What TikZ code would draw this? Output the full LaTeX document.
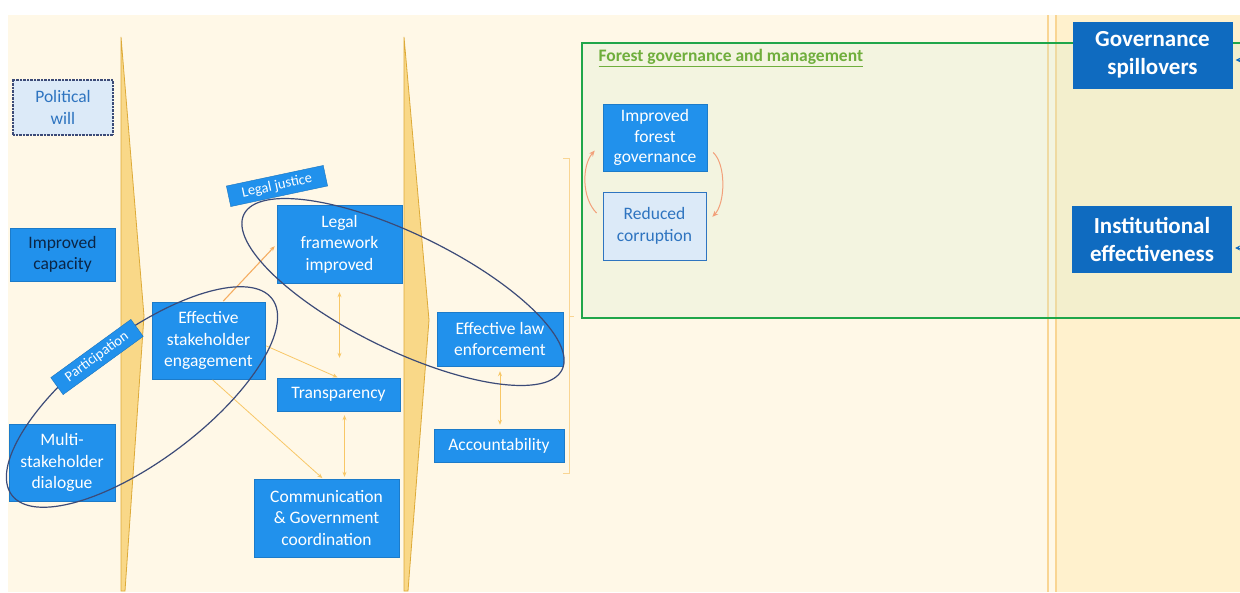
\documentclass[tikz,border=0pt]{standalone}
\usepackage{fontspec}
\setmainfont{Carlito}
\usetikzlibrary{arrows.meta}

\definecolor{cream}{HTML}{FFF8E7}
\definecolor{creamdark}{HTML}{FFF1CD}
\definecolor{sepline}{HTML}{F9D593}
\definecolor{wedgefill}{HTML}{F9D888}
\definecolor{wedgeline}{HTML}{DDAA38}
\definecolor{boxblue}{HTML}{2191EC}
\definecolor{deepblue}{HTML}{0F6BC0}
\definecolor{paleblue}{HTML}{DCEAF8}
\definecolor{textblue}{HTML}{2E74C0}
\definecolor{framegreen}{HTML}{1FA64A}
\definecolor{framefill}{HTML}{D2EBCF}
\definecolor{titlegreen}{HTML}{6FAE3C}
\definecolor{linkyellow}{HTML}{F8C766}
\definecolor{linkorange}{HTML}{F5AE62}
\definecolor{cycleorange}{HTML}{F2A07A}
\definecolor{ringblue}{HTML}{3C4B78}
\definecolor{darktext}{HTML}{0B2545}

\begin{document}
\begin{tikzpicture}[x=1pt, y=-1pt,
    bluebox/.style={rectangle, draw=boxblue!85!black, line width=0.4pt, fill=boxblue, text=white, align=center, inner sep=2pt, font=\fontsize{17.5}{21.5}\selectfont},
    palebox/.style={bluebox, fill=paleblue, text=textblue, draw=textblue},
    deepbox/.style={rectangle, fill=deepblue, text=white, align=center, minimum width=160pt, minimum height=67pt, font=\bfseries\fontsize{23}{28}\selectfont},
    tagbox/.style={rectangle, fill=boxblue, draw=boxblue!80!black, text=white, minimum width=99pt, minimum height=21pt, inner sep=1pt, font=\fontsize{14.5}{16}\selectfont},
    linkarrow/.style={draw=linkyellow, line width=0.8pt, -{Stealth[length=5pt,width=4pt]}, shorten >=1pt, shorten <=1pt},
    linkboth/.style={linkarrow, {Stealth[length=5pt,width=4pt]}-{Stealth[length=5pt,width=4pt]}},
    cyclearrow/.style={draw=cycleorange, line width=1pt, -{Stealth[length=6pt,width=5pt]}},
    ring/.style={draw=ringblue, line width=1.2pt},
    wedge/.style={fill=wedgefill, draw=wedgeline, line width=0.8pt},
    inarrow/.style={draw=deepblue, line width=0.8pt, -{Stealth[length=5pt,width=5pt]}, shorten >=3pt}
    ]
    \useasboundingbox (0,0) rectangle (1240,592);

    % background
    \fill [cream] (8,15) rectangle (1240,592);
    \fill [creamdark] (1056,15) rectangle (1240,592);
    \draw [sepline, line width=2pt] (1048,15) -- (1048,592);
    \draw [sepline, line width=2pt] (1056,15) -- (1056,592);

    % forest governance frame
    \fill [framefill, fill opacity=0.25] (582,43) rectangle (1241,318);
    \draw [framegreen, line width=2.5pt] (1241,43) -- (582,43) -- (582,318) -- (1241,318);
    \node [anchor=west, text=titlegreen, font=\bfseries\fontsize{17.5}{20}\selectfont] (fgm) at (595,58) {\underline{Forest governance and management}};

    % wedges
    \draw [wedge] (121,37) -- (144,316) -- (125,591) -- (121,591) -- cycle;
    \draw [wedge] (404,37) -- (429,320) -- (408,591) -- (404,591) -- cycle;
    \draw [sepline, line width=0.8pt] (563,158) -- (569,158) -- (569,473) -- (563,473);
    \draw [sepline, line width=0.8pt] (569,316) -- (574,316);

    % left column
    \node [palebox, draw=ringblue, densely dotted, line width=1.2pt, minimum width=100pt, minimum height=55pt] (pw) at (63,107.5) {Political\\will};
    \node [bluebox, text=darktext, minimum width=105pt, minimum height=53pt] (ic) at (62.5,254.5) {Improved\\capacity};
    \node [bluebox, minimum width=106pt, minimum height=77pt] (msd) at (62,462.5) {Multi-\\stakeholder\\dialogue};

    % middle column
    \node [bluebox, minimum width=113pt, minimum height=77pt] (ese) at (208.5,340.5) {Effective\\stakeholder\\engagement};
    \node [bluebox, minimum width=125pt, minimum height=78pt] (lfi) at (339.5,244) {Legal\\framework\\improved};
    \node [bluebox, minimum width=123pt, minimum height=33pt] (tr) at (338.5,394.5) {Transparency};
    \node [bluebox, minimum width=145pt, minimum height=78pt] (cgc) at (326.5,518) {Communication\\\& Government\\coordination};

    \node [bluebox, minimum width=126pt, minimum height=54pt] (ele) at (500,339) {Effective law\\enforcement};
    \node [bluebox, minimum width=130pt, minimum height=33pt] (acc) at (499,445.5) {Accountability};

    % forest governance cycle
    \node [bluebox, minimum width=104pt, minimum height=67pt, font=\fontsize{17.5}{20.5}\selectfont] (ifg) at (655,137.5) {Improved\\forest\\governance};
    \node [palebox, line width=0.8pt, minimum width=103pt, minimum height=68pt] (rc) at (654.5,226) {Reduced\\corruption};

    % right column
    \node [deepbox] (gs) at (1152.5,55) {Governance\\spillovers};
    \node [deepbox] (ie) at (1152,239.5) {Institutional\\effectiveness};
    \coordinate (gsin) at (1250,60);
    \coordinate (iein) at (1250,248);
    \draw [inarrow] (gsin) -- (gsin -| gs.east);
    \draw [inarrow] (iein) -- (iein -| ie.east);

    % links
    \draw [linkarrow, draw=linkorange, line width=1.1pt, shorten >=3pt] (ese.70) -- (lfi.west);
    \draw [linkarrow] (ese.-5) -- (tr.north);
    \draw [linkarrow] (ese.-85) -- (cgc.95);
    \draw [linkboth, shorten <=9pt, shorten >=20pt] (lfi.south) -- (lfi.south |- tr.north);
    \draw [linkboth, shorten <=4pt, shorten >=2pt] ([xshift=6pt]tr.south) -- ([xshift=6pt]tr.south |- cgc.north);
    \draw [linkboth, shorten <=5pt, shorten >=4pt] (ele.south) -- (ele.south |- acc.north);

    \draw [cyclearrow] ([xshift=-6pt]rc.166) .. controls +(-15,-15) and +(-13,15) .. ([xshift=-8pt]ifg.194);
    \draw [cyclearrow] ([xshift=6pt]ifg.-16) .. controls +(13,12) and +(13,-14) .. ([xshift=6pt]rc.10);

    % rings
    \draw [ring, rotate around={37:(142,397)}] (142,397) ellipse [x radius=163pt, y radius=63pt];
    \draw [ring, rotate around={-26:(403,292)}] (403,292) ellipse [x radius=177pt, y radius=58pt];

    \node [tagbox, rotate=36] (pa) at (97,357) {Participation};
    \node [tagbox, rotate=12] (lj) at (277,186) {Legal justice};

\end{tikzpicture}
\end{document}
